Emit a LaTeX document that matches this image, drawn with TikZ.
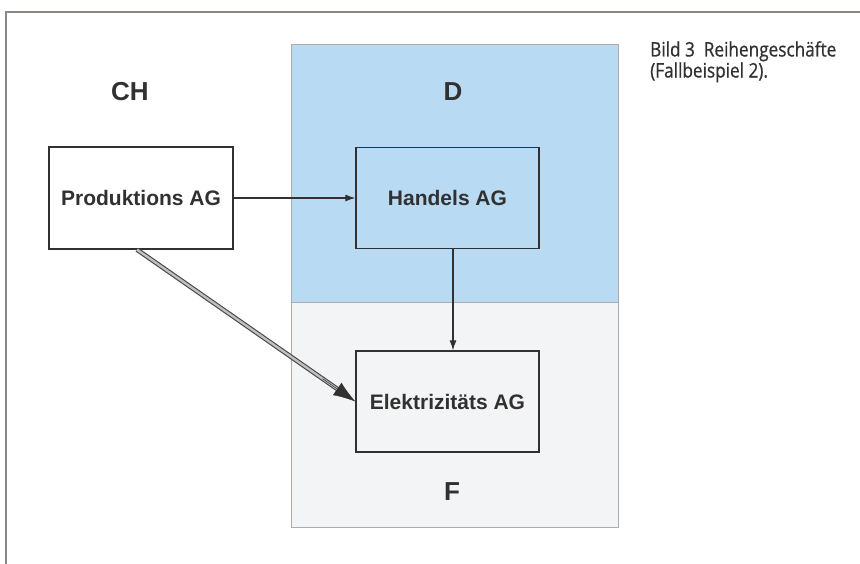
\documentclass[tikz,border=0pt]{standalone}
\usepackage{fontspec}
\setmainfont{Liberation Sans}
\newfontfamily\capfont[FakeStretch=0.86,FakeBold=0.6]{Open Sans}
\usetikzlibrary{arrows.meta,calc}
\definecolor{txt}{RGB}{50,48,48}
\definecolor{lblue}{RGB}{184,218,243}
\definecolor{lgray}{RGB}{243,244,245}
\definecolor{frame}{RGB}{140,135,132}
\tikzset{
  entity/.style={draw=txt, line width=1.3pt, fill=none, minimum width=183pt, minimum height=101pt,
    inner sep=0pt, font=\fontsize{21}{21}\selectfont\bfseries, text=txt},
  country/.style={font=\fontsize{26}{26}\selectfont\bfseries, text=txt, inner sep=0pt},
  thinarrow/.style={draw=txt, line width=1.1pt, -{Latex[length=10pt,width=7pt]}},
  region/.style={draw=frame!70, line width=0.6pt}
}
\begin{document}
\begin{tikzpicture}[x=1pt,y=-1pt]
\useasboundingbox (0,0) rectangle (860,564);
\fill[white] (0,0) rectangle (860,564);
% outer frame
\draw[frame, line width=1.1pt] (6,564) -- (6,12) -- (860,12);
% regions
\filldraw[region, fill=lblue] (291,44) rectangle (618,302);
\filldraw[region, fill=lgray] (291,302) rectangle (618,527);
% country labels
\node[country] (ch) at (130,92) {CH};
\node[country] (d) at (453,92) {D};
\node[country] (f) at (452,492) {F};
% caption
\node[anchor=north west, align=left, inner sep=0pt, text=txt,
  font=\capfont\fontsize{20}{21}\selectfont] (cap) at (650,41)
  {Bild 3\ \ Reihengeschäfte\\(Fallbeispiel 2).};
% entities
\node[entity, minimum width=184pt, minimum height=102pt] (p) at (141,198) {Produktions AG};
\node[entity] (h) at (447.5,198) {Handels AG};
\node[entity] (e) at (447.5,401.5) {Elektrizitäts AG};
% connectors
\draw[thinarrow] (p.east) -- (h.west);
\draw[thinarrow] ([xshift=5.5pt]h.south) -- ([xshift=5.5pt]e.north);
\coordinate (s) at ([xshift=-4pt]p.south);
\draw[draw=txt!90, double=gray!50, line width=1.1pt, double distance=2.4pt, shorten >=15pt] (s) -- (e.west);
\draw[draw=txt, fill=txt, line width=0.4pt, -{Latex[length=22pt,width=15pt]}] ($(s)!0.85!(e.west)$) -- (e.west);
\end{tikzpicture}
\end{document}
